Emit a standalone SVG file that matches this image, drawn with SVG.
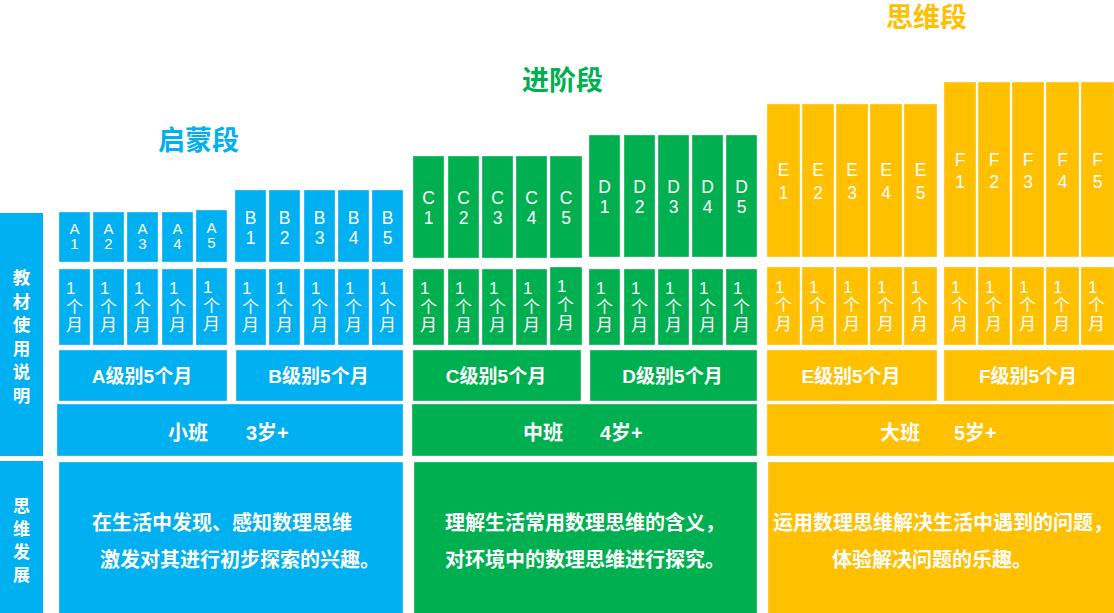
<svg xmlns="http://www.w3.org/2000/svg" width="1114" height="613" viewBox="0 0 1114 613">
<style>
.b{fill:#00B0F0}
.g{fill:#00B050}
.y{fill:#FFC000}
.blk{stroke:#FFFFFF;stroke-opacity:0.35;stroke-width:1}
.lab{font-family:"Liberation Sans","Noto Sans CJK SC",sans-serif;fill:#FFFFFF;text-anchor:middle}
.mon{font-family:"Liberation Sans","Noto Sans CJK SC",sans-serif;fill:#FFFFFF;font-size:17px}
.lvl{font-family:"Liberation Sans","Noto Sans CJK SC",sans-serif;fill:#FFFFFF;font-size:19px;font-weight:bold;text-anchor:middle}
.cls{font-family:"Liberation Sans","Noto Sans CJK SC",sans-serif;fill:#FFFFFF;font-size:20px;font-weight:bold}
.side{font-family:"Noto Sans CJK SC",sans-serif;fill:#FFFFFF;font-size:17.5px;font-weight:bold;text-anchor:middle}
.side2{font-family:"Noto Sans CJK SC",sans-serif;fill:#FFFFFF;font-size:17px;font-weight:bold;text-anchor:middle}
.desc{font-family:"Noto Sans CJK SC",sans-serif;fill:#FFFFFF;font-size:20px;font-weight:bold}
.ttl{font-family:"Noto Sans CJK SC",sans-serif;font-size:27px;font-weight:bold}
</style>

<g id="titles">
<text class="ttl" x="158" y="150" fill="#00B0F0">启蒙段</text>
<text class="ttl" x="522" y="90" fill="#00B050">进阶段</text>
<text class="ttl" x="886" y="27" fill="#FFC000">思维段</text>
</g>

<g id="side-jiaocai">
<rect class="b" x="0" y="213" width="43" height="243"/>
<text class="side" x="21.5" y="284">教</text>
<text class="side" x="21.5" y="307.6">材</text>
<text class="side" x="21.5" y="331.2">使</text>
<text class="side" x="21.5" y="354.8">用</text>
<text class="side" x="21.5" y="378.4">说</text>
<text class="side" x="21.5" y="402">明</text>
</g>
<g id="side-siwei">
<rect class="b" x="0" y="461" width="43" height="152"/>
<text class="side2" x="21.5" y="511.5">思</text>
<text class="side2" x="21.5" y="534.5">维</text>
<text class="side2" x="21.5" y="557.5">发</text>
<text class="side2" x="21.5" y="580.5">展</text>
</g>

<!-- A units -->
<g id="A-units">
<rect class="b blk" x="59" y="212" width="31" height="50"/>
<rect class="b blk" x="93" y="212" width="31" height="50"/>
<rect class="b blk" x="127" y="212" width="31" height="50"/>
<rect class="b blk" x="162" y="212" width="31" height="50"/>
<rect class="b blk" x="196" y="210" width="31" height="52"/>
<g class="lab" font-size="15">
<text x="74.5" y="234.4">A</text><text x="74.5" y="249.4">1</text>
<text x="108.5" y="234.4">A</text><text x="108.5" y="249.4">2</text>
<text x="142.5" y="234.4">A</text><text x="142.5" y="249.4">3</text>
<text x="177.5" y="234.4">A</text><text x="177.5" y="249.4">4</text>
<text x="211.5" y="233">A</text><text x="211.5" y="248">5</text>
</g>
</g>
<g id="B-units">
<rect class="b blk" x="235" y="190" width="31" height="72"/>
<rect class="b blk" x="269" y="190" width="31" height="72"/>
<rect class="b blk" x="304" y="190" width="31" height="72"/>
<rect class="b blk" x="338" y="190" width="31" height="72"/>
<rect class="b blk" x="372" y="190" width="31" height="72"/>
<g class="lab" font-size="17.5">
<text x="250.5" y="224.3">B</text><text x="250.5" y="244.3">1</text>
<text x="284.5" y="224.3">B</text><text x="284.5" y="244.3">2</text>
<text x="319.5" y="224.3">B</text><text x="319.5" y="244.3">3</text>
<text x="353.5" y="224.3">B</text><text x="353.5" y="244.3">4</text>
<text x="387.5" y="224.3">B</text><text x="387.5" y="244.3">5</text>
</g>
</g>
<g id="C-units">
<rect class="g blk" x="413" y="156" width="31" height="102"/>
<rect class="g blk" x="448" y="156" width="31" height="102"/>
<rect class="g blk" x="482" y="156" width="31" height="102"/>
<rect class="g blk" x="516" y="156" width="31" height="102"/>
<rect class="g blk" x="550" y="156" width="32" height="102"/>
<g class="lab" font-size="17.5">
<text x="428.5" y="204.3">C</text><text x="428.5" y="224.3">1</text>
<text x="463.5" y="204.3">C</text><text x="463.5" y="224.3">2</text>
<text x="497.5" y="204.3">C</text><text x="497.5" y="224.3">3</text>
<text x="531.5" y="204.3">C</text><text x="531.5" y="224.3">4</text>
<text x="566" y="204.3">C</text><text x="566" y="224.3">5</text>
</g>
</g>
<g id="D-units">
<rect class="g blk" x="589" y="135" width="31" height="122"/>
<rect class="g blk" x="624" y="135" width="31" height="122"/>
<rect class="g blk" x="658" y="135" width="31" height="122"/>
<rect class="g blk" x="692" y="135" width="31" height="122"/>
<rect class="g blk" x="726" y="135" width="31" height="122"/>
<g class="lab" font-size="17.5">
<text x="604.5" y="193.3">D</text><text x="604.5" y="213.3">1</text>
<text x="639.5" y="193.3">D</text><text x="639.5" y="213.3">2</text>
<text x="673.5" y="193.3">D</text><text x="673.5" y="213.3">3</text>
<text x="707.5" y="193.3">D</text><text x="707.5" y="213.3">4</text>
<text x="741.5" y="193.3">D</text><text x="741.5" y="213.3">5</text>
</g>
</g>
<g id="E-units">
<rect class="y blk" x="767" y="104" width="33" height="153"/>
<rect class="y blk" x="802" y="104" width="32" height="153"/>
<rect class="y blk" x="836" y="104" width="32" height="153"/>
<rect class="y blk" x="870" y="104" width="32" height="153"/>
<rect class="y blk" x="904" y="104" width="33" height="153"/>
<g class="lab" font-size="17.5">
<text x="783.5" y="176.3">E</text><text x="783.5" y="198.5">1</text>
<text x="818" y="176.3">E</text><text x="818" y="198.5">2</text>
<text x="852" y="176.3">E</text><text x="852" y="198.5">3</text>
<text x="886" y="176.3">E</text><text x="886" y="198.5">4</text>
<text x="920.5" y="176.3">E</text><text x="920.5" y="198.5">5</text>
</g>
</g>
<g id="F-units">
<rect class="y blk" x="944" y="82" width="32" height="175"/>
<rect class="y blk" x="978" y="82" width="32" height="175"/>
<rect class="y blk" x="1012" y="82" width="32" height="175"/>
<rect class="y blk" x="1046" y="82" width="33" height="175"/>
<rect class="y blk" x="1081" y="82" width="33" height="175"/>
<g class="lab" font-size="17.5">
<text x="960" y="166.3">F</text><text x="960" y="188.3">1</text>
<text x="994" y="166.3">F</text><text x="994" y="188.3">2</text>
<text x="1028" y="166.3">F</text><text x="1028" y="188.3">3</text>
<text x="1062.5" y="166.3">F</text><text x="1062.5" y="188.3">4</text>
<text x="1097.5" y="166.3">F</text><text x="1097.5" y="188.3">5</text>
</g>
</g>

<!-- month blocks -->
<g id="A-months">
<rect class="b blk" x="59" y="269" width="31" height="76"/>
<rect class="b blk" x="93" y="269" width="31" height="76"/>
<rect class="b blk" x="127" y="269" width="31" height="76"/>
<rect class="b blk" x="162" y="269" width="31" height="76"/>
<rect class="b blk" x="196" y="268" width="31" height="77"/>
</g>
<g id="B-months">
<rect class="b blk" x="235" y="269" width="31" height="76"/>
<rect class="b blk" x="269" y="269" width="31" height="76"/>
<rect class="b blk" x="304" y="269" width="31" height="76"/>
<rect class="b blk" x="338" y="269" width="31" height="76"/>
<rect class="b blk" x="372" y="269" width="31" height="76"/>
</g>
<g id="C-months">
<rect class="g blk" x="413" y="269" width="31" height="76"/>
<rect class="g blk" x="448" y="269" width="31" height="76"/>
<rect class="g blk" x="482" y="269" width="31" height="76"/>
<rect class="g blk" x="516" y="269" width="31" height="76"/>
<rect class="g blk" x="550" y="267" width="32" height="78"/>
</g>
<g id="D-months">
<rect class="g blk" x="589" y="269" width="31" height="76"/>
<rect class="g blk" x="624" y="269" width="31" height="76"/>
<rect class="g blk" x="658" y="269" width="31" height="76"/>
<rect class="g blk" x="692" y="269" width="31" height="76"/>
<rect class="g blk" x="726" y="269" width="31" height="76"/>
</g>
<g id="E-months">
<rect class="y blk" x="767" y="267" width="33" height="78"/>
<rect class="y blk" x="802" y="267" width="32" height="78"/>
<rect class="y blk" x="836" y="267" width="32" height="78"/>
<rect class="y blk" x="870" y="267" width="32" height="78"/>
<rect class="y blk" x="904" y="267" width="33" height="78"/>
</g>
<g id="F-months">
<rect class="y blk" x="944" y="267" width="32" height="78"/>
<rect class="y blk" x="978" y="267" width="32" height="78"/>
<rect class="y blk" x="1012" y="267" width="32" height="78"/>
<rect class="y blk" x="1046" y="267" width="33" height="78"/>
<rect class="y blk" x="1081" y="267" width="33" height="78"/>
</g>
<g id="month-labels" class="mon">
<text x="66"><tspan x="66" y="294">1</tspan><tspan x="66" y="313">个</tspan><tspan x="66" y="331">月</tspan></text>
<text x="100"><tspan x="100" y="294">1</tspan><tspan x="100" y="313">个</tspan><tspan x="100" y="331">月</tspan></text>
<text x="134"><tspan x="134" y="294">1</tspan><tspan x="134" y="313">个</tspan><tspan x="134" y="331">月</tspan></text>
<text x="169"><tspan x="169" y="294">1</tspan><tspan x="169" y="313">个</tspan><tspan x="169" y="331">月</tspan></text>
<text x="203"><tspan x="203" y="293">1</tspan><tspan x="203" y="312">个</tspan><tspan x="203" y="330">月</tspan></text>
<text x="242"><tspan x="242" y="294">1</tspan><tspan x="242" y="313">个</tspan><tspan x="242" y="331">月</tspan></text>
<text x="276"><tspan x="276" y="294">1</tspan><tspan x="276" y="313">个</tspan><tspan x="276" y="331">月</tspan></text>
<text x="311"><tspan x="311" y="294">1</tspan><tspan x="311" y="313">个</tspan><tspan x="311" y="331">月</tspan></text>
<text x="345"><tspan x="345" y="294">1</tspan><tspan x="345" y="313">个</tspan><tspan x="345" y="331">月</tspan></text>
<text x="379"><tspan x="379" y="294">1</tspan><tspan x="379" y="313">个</tspan><tspan x="379" y="331">月</tspan></text>
<text x="420"><tspan x="420" y="294">1</tspan><tspan x="420" y="313">个</tspan><tspan x="420" y="331">月</tspan></text>
<text x="455"><tspan x="455" y="294">1</tspan><tspan x="455" y="313">个</tspan><tspan x="455" y="331">月</tspan></text>
<text x="489"><tspan x="489" y="294">1</tspan><tspan x="489" y="313">个</tspan><tspan x="489" y="331">月</tspan></text>
<text x="523"><tspan x="523" y="294">1</tspan><tspan x="523" y="313">个</tspan><tspan x="523" y="331">月</tspan></text>
<text x="557"><tspan x="557" y="292">1</tspan><tspan x="557" y="311">个</tspan><tspan x="557" y="329">月</tspan></text>
<text x="596"><tspan x="596" y="294">1</tspan><tspan x="596" y="313">个</tspan><tspan x="596" y="331">月</tspan></text>
<text x="631"><tspan x="631" y="294">1</tspan><tspan x="631" y="313">个</tspan><tspan x="631" y="331">月</tspan></text>
<text x="665"><tspan x="665" y="294">1</tspan><tspan x="665" y="313">个</tspan><tspan x="665" y="331">月</tspan></text>
<text x="699"><tspan x="699" y="294">1</tspan><tspan x="699" y="313">个</tspan><tspan x="699" y="331">月</tspan></text>
<text x="733"><tspan x="733" y="294">1</tspan><tspan x="733" y="313">个</tspan><tspan x="733" y="331">月</tspan></text>
<text x="775"><tspan x="775" y="293">1</tspan><tspan x="775" y="311">个</tspan><tspan x="775" y="330">月</tspan></text>
<text x="809"><tspan x="809" y="293">1</tspan><tspan x="809" y="311">个</tspan><tspan x="809" y="330">月</tspan></text>
<text x="843"><tspan x="843" y="293">1</tspan><tspan x="843" y="311">个</tspan><tspan x="843" y="330">月</tspan></text>
<text x="877"><tspan x="877" y="293">1</tspan><tspan x="877" y="311">个</tspan><tspan x="877" y="330">月</tspan></text>
<text x="911"><tspan x="911" y="293">1</tspan><tspan x="911" y="311">个</tspan><tspan x="911" y="330">月</tspan></text>
<text x="951"><tspan x="951" y="293">1</tspan><tspan x="951" y="311">个</tspan><tspan x="951" y="330">月</tspan></text>
<text x="985"><tspan x="985" y="293">1</tspan><tspan x="985" y="311">个</tspan><tspan x="985" y="330">月</tspan></text>
<text x="1019"><tspan x="1019" y="293">1</tspan><tspan x="1019" y="311">个</tspan><tspan x="1019" y="330">月</tspan></text>
<text x="1053"><tspan x="1053" y="293">1</tspan><tspan x="1053" y="311">个</tspan><tspan x="1053" y="330">月</tspan></text>
<text x="1088"><tspan x="1088" y="293">1</tspan><tspan x="1088" y="311">个</tspan><tspan x="1088" y="330">月</tspan></text>
</g>

<!-- level boxes -->
<g id="level-A"><rect class="b blk" x="59" y="350" width="168" height="51"/><text class="lvl" x="142" y="383">A级别5个月</text></g>
<g id="level-B"><rect class="b blk" x="236" y="350" width="167" height="51"/><text class="lvl" x="318.5" y="383">B级别5个月</text></g>
<g id="level-C"><rect class="g blk" x="413" y="350" width="168" height="51"/><text class="lvl" x="496" y="383">C级别5个月</text></g>
<g id="level-D"><rect class="g blk" x="590" y="350" width="167" height="51"/><text class="lvl" x="672.5" y="383">D级别5个月</text></g>
<g id="level-E"><rect class="y blk" x="767" y="350" width="170" height="51"/><text class="lvl" x="851" y="383">E级别5个月</text></g>
<g id="level-F"><rect class="y blk" x="944" y="350" width="170" height="51"/><text class="lvl" x="1028" y="383">F级别5个月</text></g>

<!-- class rows -->
<g id="class-small"><rect class="b blk" x="57" y="404" width="346" height="52"/><text class="cls" y="439.5"><tspan x="168">小班</tspan><tspan x="246">3岁+</tspan></text></g>
<g id="class-middle"><rect class="g blk" x="412" y="404" width="345" height="52"/><text class="cls" y="439.5"><tspan x="523">中班</tspan><tspan x="600">4岁+</tspan></text></g>
<g id="class-large"><rect class="y blk" x="767" y="404" width="347" height="52"/><text class="cls" y="439.5"><tspan x="880">大班</tspan><tspan x="954">5岁+</tspan></text></g>

<!-- development -->
<g id="dev-blue"><rect class="b blk" x="59" y="462" width="344" height="152"/>
<text class="desc" x="92" y="529.5">在生活中发现、感知数理思维</text>
<text class="desc" x="100" y="566.5">激发对其进行初步探索的兴趣。</text></g>
<g id="dev-green"><rect class="g blk" x="414" y="462" width="343" height="152"/>
<text class="desc" x="445" y="529.5">理解生活常用数理思维的含义，</text>
<text class="desc" x="445" y="566.5">对环境中的数理思维进行探究。</text></g>
<g id="dev-yellow"><rect class="y blk" x="768" y="462" width="347" height="152"/>
<text class="desc" x="773" y="529.5">运用数理思维解决生活中遇到的问题，</text>
<text class="desc" x="832" y="566.5">体验解决问题的乐趣。</text></g>
</svg>
